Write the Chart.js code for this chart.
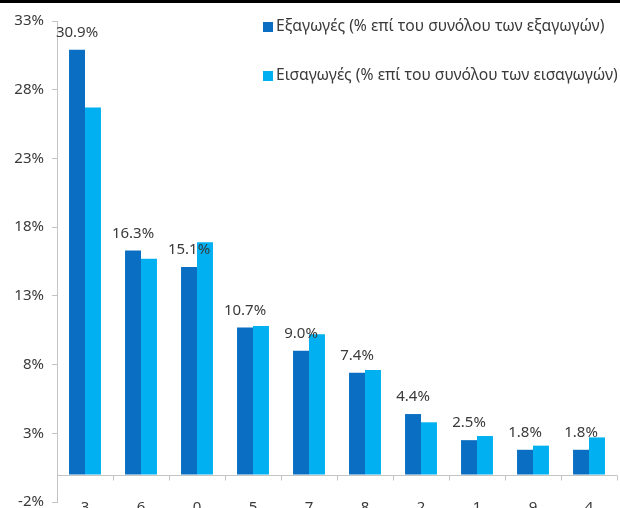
<!DOCTYPE html>
<html>
<head>
<meta charset="utf-8">
<script src="https://cdn.jsdelivr.net/npm/chart.js@4"></script>
<style>
  html, body { margin: 0; padding: 0; background: #fff; overflow: hidden; }
  #wrap { position: relative; width: 620px; height: 508px; overflow: hidden; }
  #topbar { position: absolute; left: 0; top: 0; width: 620px; height: 3px; background: #000; }
</style>
</head>
<body>
<div id="wrap">
  <!-- canvas runs a little past the window so the x labels are cut like in the original -->
  <canvas id="chart" width="620" height="519"></canvas>
  <div id="topbar"></div>
</div>
<script>
// ─── Data ────────────────────────────────────────────────────────────────────
const CATEGORIES = ["3", "6", "0", "5", "7", "8", "2", "1", "9", "4"];
const EXPORTS = [30.9, 16.3, 15.1, 10.7, 9.0, 7.4, 4.4, 2.5, 1.8, 1.8];
const IMPORTS = [26.7, 15.7, 16.9, 10.8, 10.2, 7.6, 3.8, 2.8, 2.1, 2.7];
const Y_TICKS = [-2, 3, 8, 13, 18, 23, 28, 33];
const LABEL_EXP = "Εξαγωγές (% επί του συνόλου των εξαγωγών)";
const LABEL_IMP = "Εισαγωγές (% επί του συνόλου των εισαγωγών)";

const DARK = "#0a6fc2";
const LIGHT = "#00b0f0";
const AXIS = "#c4c4c4";
const TEXT = "#3a3a3a";
const FONT = "'Noto Sans', sans-serif";

// zero line + category ticks on it (the x axis sits at 0, labels at the bottom)
const zeroAxis = {
  id: "zeroAxis",
  afterDatasetsDraw(chart) {
    const { ctx, chartArea: a, scales: { y } } = chart;
    const y0 = Math.round(y.getPixelForValue(0)) + 0.5;
    ctx.save();
    ctx.strokeStyle = AXIS; ctx.lineWidth = 1;
    ctx.beginPath();
    ctx.moveTo(a.left, y0); ctx.lineTo(a.right, y0);
    const step = (a.right - a.left) / CATEGORIES.length;
    for (let i = 1; i <= CATEGORIES.length; i++) {
      const px = Math.round(a.left + i * step) + 0.5;
      ctx.moveTo(px, y0); ctx.lineTo(px, y0 + 5);
    }
    ctx.stroke();
    ctx.restore();
  },
};

// value labels over the exports bars
const valueLabels = {
  id: "valueLabels",
  afterDatasetsDraw(chart) {
    const { ctx } = chart;
    const meta = chart.getDatasetMeta(0);
    ctx.save();
    ctx.fillStyle = TEXT;
    ctx.font = `15px ${FONT}`;
    ctx.textAlign = "center"; ctx.textBaseline = "middle";
    meta.data.forEach((bar, i) => {
      ctx.fillText(EXPORTS[i].toFixed(1) + "%", bar.x, bar.y - 17);
    });
    ctx.restore();
  },
};

// legend drawn inside the plot, top right
const innerLegend = {
  id: "innerLegend",
  afterDraw(chart) {
    const { ctx } = chart;
    const items = [[LABEL_EXP, DARK, 27], [LABEL_IMP, LIGHT, 76]];
    ctx.save();
    ctx.font = `15.7px ${FONT}`;
    ctx.textBaseline = "middle"; ctx.textAlign = "left";
    items.forEach(([text, color, cy]) => {
      ctx.fillStyle = color;
      ctx.fillRect(263, cy - 5, 10, 10);
      ctx.fillStyle = TEXT;
      ctx.fillText(text, 276, cy);
    });
    ctx.restore();
  },
};

new Chart(document.getElementById("chart"), {
  type: "bar",
  data: {
    labels: CATEGORIES,
    datasets: [
      { label: LABEL_EXP, data: EXPORTS, backgroundColor: DARK, categoryPercentage: 0.57, barPercentage: 1.0 },
      { label: LABEL_IMP, data: IMPORTS, backgroundColor: LIGHT, categoryPercentage: 0.57, barPercentage: 1.0 },
    ],
  },
  options: {
    responsive: false, animation: false,
    layout: { padding: { top: 21, right: 3, left: 0, bottom: 0 } },
    plugins: { legend: { display: false }, tooltip: { enabled: false } },
    scales: {
      x: {
        grid: { display: false, drawTicks: false }, border: { display: false },
        ticks: { color: TEXT, font: { size: 15, family: FONT }, padding: -3, maxRotation: 0 },
      },
      y: {
        min: -2, max: 33,
        afterBuildTicks: s => { s.ticks = Y_TICKS.map(v => ({ value: v })); },
        grid: { drawOnChartArea: false, color: AXIS, tickColor: AXIS, tickLength: 5 },
        border: { display: true, color: AXIS },
        ticks: { color: TEXT, font: { size: 15, family: FONT }, padding: 8, callback: v => v + "%" },
        afterFit: s => { s.width = 57; },
      },
    },
  },
  plugins: [zeroAxis, valueLabels, innerLegend],
});
</script>
</body>
</html>
